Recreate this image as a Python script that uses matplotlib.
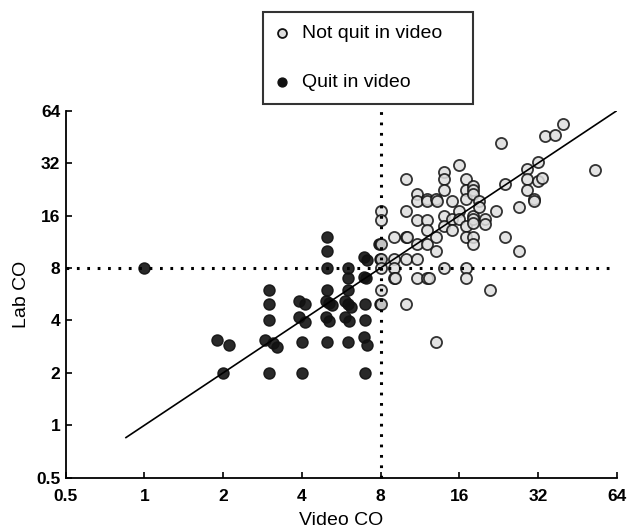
import matplotlib
matplotlib.use("Agg")
import matplotlib.pyplot as plt
import numpy as np

plt.rcParams['font.family'] = ['Liberation Sans', 'DejaVu Sans']

# Not quit in video (light markers): video CO, lab CO
notquit_video = [8, 8, 8, 8, 8, 8, 8,
                 9, 9, 9, 9, 9.1,
                 10, 10, 10, 10.1, 10, 10,
                 11, 11, 11, 11, 11, 11,
                 12, 12, 12, 12, 12, 12, 12.2,
                 13, 13.1, 13, 13, 13,
                 14, 14, 14, 14, 14, 14,
                 15, 15, 15,
                 16, 16, 16,
                 17, 17, 17, 17, 17, 17, 17,
                 18, 18, 18, 18, 18, 18, 18, 18,
                 19, 19, 20, 20, 21, 22, 23, 24, 24, 27, 27,
                 29, 29, 29, 31, 31, 32, 32, 33, 34, 37, 40, 53]
notquit_lab = [17, 15, 11, 9, 8, 6, 5,
               12, 9, 8, 7, 7,
               26, 17, 12, 12, 9, 5,
               21.3, 19.3, 15, 11, 9, 7,
               20, 19.3, 15, 13.2, 11, 7, 7,
               20, 19.3, 12, 10, 3,
               28.6, 26, 22.3, 16, 14, 8,
               19.3, 15.3, 13.2,
               31.3, 17, 15.3,
               26, 22.3, 20, 14, 12, 8, 7,
               23.5, 22.3, 21.3, 16, 15.3, 14.5, 12, 11,
               19.3, 18, 15.3, 14.3, 6, 17, 41.7, 24.3, 12, 18, 10,
               29.6, 26, 22.3, 20, 19.3, 32.3, 25.3, 26.2, 46, 46.5, 54, 29.3]

# Quit in video (dark markers)
quit_video = [1, 1.9, 2.1, 2,
              3, 3, 3, 2.9, 3.1, 3.2, 3,
              3.9, 4.1, 3.9, 4.1, 4, 4,
              5, 5, 5, 5, 4.93, 5.1, 5.2, 4.93, 5.1, 5,
              6, 6, 6, 5.85, 6.0, 6.15, 5.85, 6.05, 6,
              6.9, 7.1, 6.9, 7.05, 7, 7, 6.9, 7.1, 7,
              7.9, 7.95, 7.95]
quit_lab = [8, 3.1, 2.9, 2,
            6, 5, 4, 3.1, 2.95, 2.8, 2,
            5.2, 4.95, 4.2, 3.9, 3, 2,
            12, 10, 8, 6, 5.17, 5.05, 4.9, 4.2, 3.97, 3,
            8, 7, 6, 5.17, 4.98, 4.8, 4.2, 3.97, 3,
            9.2, 8.9, 7.1, 7.0, 5, 4, 3.2, 2.9, 2,
            11, 9, 5]

fit_x = [0.85, 64]
cutoff = 8
ticks = [0.5, 1, 2, 4, 8, 16, 32, 64]
tick_labels = ['0.5', '1', '2', '4', '8', '16', '32', '64']

fig = plt.figure(figsize=(6.28, 5.3), dpi=100)
ax = fig.add_axes([0.1046, 0.0987, 0.8776, 0.6925])

ax.scatter(quit_video, quit_lab, s=64, facecolor='#111111', edgecolor='#111111',
           linewidth=1.0, alpha=0.9, zorder=3, label='Quit in video')
ax.scatter(notquit_video, notquit_lab, s=64, facecolor='#dedede', edgecolor='#111111',
           linewidth=1.3, alpha=0.85, zorder=4, label='Not quit in video')

ax.plot(fit_x, fit_x, color='black', lw=1.2, zorder=5)
ax.plot([0.5, 62], [cutoff, cutoff], color='black', lw=2.2,
        linestyle=(0, (0.9, 2.5)), zorder=6)
ax.plot([cutoff, cutoff], [0.5, 66], color='black', lw=2.2,
        linestyle=(0, (0.9, 2.5)), zorder=6, clip_on=False)

ax.set_xscale('log', base=2)
ax.set_yscale('log', base=2)
ax.set_xlim(0.5, 64)
ax.set_ylim(0.5, 64)
ax.set_xticks(ticks)
ax.set_xticklabels(tick_labels)
ax.set_yticks(ticks)
ax.set_yticklabels(tick_labels)
ax.minorticks_off()
ax.tick_params(direction='in', length=4, width=1.2, labelsize=12.5)
ax.tick_params(axis='x', pad=8)
ax.tick_params(axis='y', pad=4)
for lab in ax.get_xticklabels() + ax.get_yticklabels():
    lab.set_fontweight('bold')
for side in ['top', 'right']:
    ax.spines[side].set_visible(False)
for side in ['left', 'bottom']:
    ax.spines[side].set_linewidth(1.3)

ax.set_xlabel('Video CO', fontsize=14, labelpad=6)
ax.set_ylabel('Lab CO', fontsize=14)

handles, labels = ax.get_legend_handles_labels()
leg = fig.legend(handles[::-1], labels[::-1], loc='upper left',
                 bbox_to_anchor=(263 / 628, 1 - 101 / 530, 210 / 628, 89 / 530),
                 mode='expand', borderaxespad=0, fontsize=14, frameon=True,
                 fancybox=False, edgecolor='black', handlelength=0.7,
                 handletextpad=0.65, borderpad=0.65, labelspacing=1.6,
                 markerscale=0.8)
leg.get_frame().set_linewidth(1.5)
for h in leg.legend_handles:
    h.set_alpha(1)

fig.savefig('out.png', dpi=100)
